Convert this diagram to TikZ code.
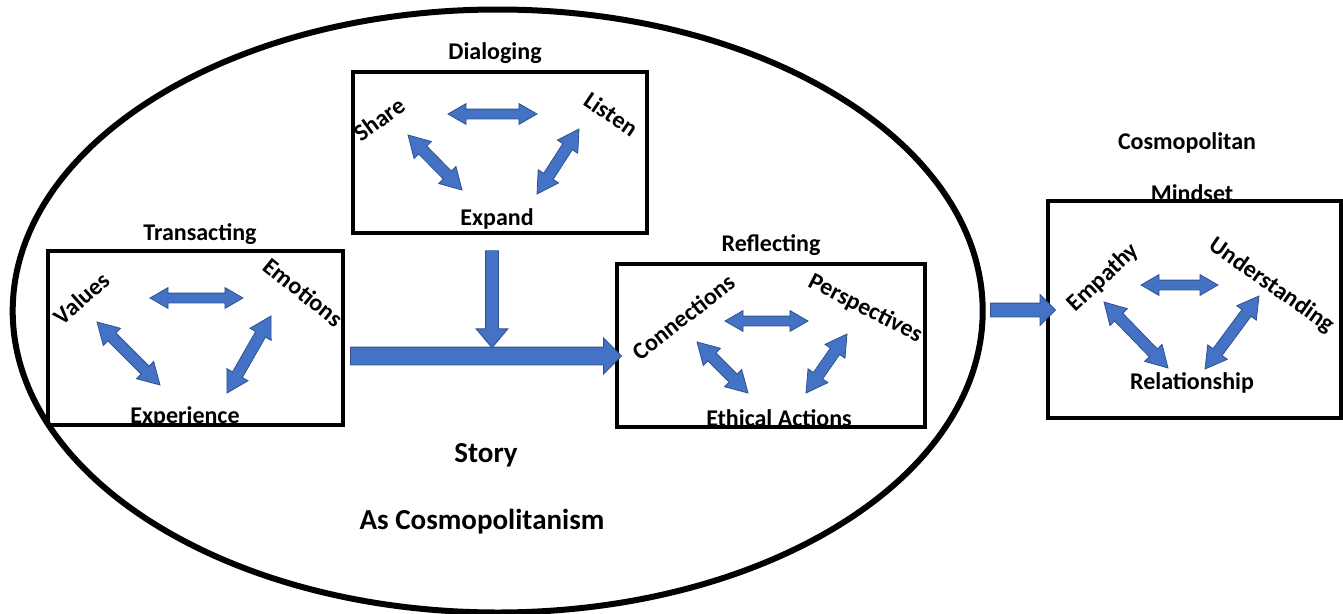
\documentclass[tikz,border=0pt]{standalone}
\usepackage{fontspec}
\setmainfont{Carlito}
\usetikzlibrary{shapes.arrows,calc}
\definecolor{arrowfill}{HTML}{4472C4}
\definecolor{arrowline}{HTML}{2F528F}
\begin{document}
\begin{tikzpicture}[x=1pt,y=-1pt,
  lbl/.style={font=\fontsize{24}{28}\selectfont\bfseries, inner sep=0pt, text height=17pt, text depth=5pt},
  biglbl/.style={font=\fontsize{29}{33}\selectfont\bfseries, inner sep=0pt, text height=20pt, text depth=6pt},
  frame/.style={draw=black, line width=3.5pt, rectangle, inner sep=0pt},
  arrowbase/.style={draw=arrowline, fill=arrowfill, line width=0.8pt, inner sep=0pt, text depth=0pt, sloped, midway},
  dblh/.style={arrowbase, double arrow, text height=9pt, double arrow head extend=5.5pt, double arrow tip angle=60},
  dbld/.style={arrowbase, double arrow, text height=10.5pt, double arrow head extend=6.5pt, double arrow tip angle=60},
  sgl/.style={arrowbase, single arrow}
]
\useasboundingbox (0,0) rectangle (1343,613);

% big ellipse
\draw[line width=6pt] (497.7,311) ellipse [x radius=485, y radius=301.5];

% boxes
\node[frame, minimum width=294pt, minimum height=161pt] (dbox) at (500,152.5) {};
\node[frame, minimum width=295pt, minimum height=174pt] (tbox) at (195.5,338) {};
\node[frame, minimum width=308pt, minimum height=163pt] (rbox) at (771,345.5) {};
\node[frame, minimum width=293pt, minimum height=217pt] (cbox) at (1194.5,309.5) {};

% texts
\node[lbl] (tDia) at (495,53) {Dialoging};
\node[lbl, rotate=36] (tShare) at (381,121) {Share};
\node[lbl, rotate=-34] (tListen) at (610,116) {Listen};
\node[lbl] (tExpand) at (497,219) {Expand};

\node[lbl] (tTra) at (200,234) {Transacting};
\node[lbl, rotate=42] (tValues) at (83,300) {Values};
\node[lbl, rotate=-39] (tEmo) at (302,294) {Emotions};
\node[lbl] (tExp) at (185,417) {Experience};

\node[lbl] (tRef) at (771,245) {Reflecting};
\node[lbl, rotate=38] (tCon) at (685,319) {Connections};
\node[lbl, rotate=-27] (tPer) at (865,309) {Perspectives};
\node[lbl] (tEth) at (779,420) {Ethical Actions};

\node[lbl] (tCos) at (1187,143) {Cosmopolitan};
\node[lbl] (tMind) at (1192,195) {Mindset};
\node[lbl, rotate=43] (tEmp) at (1104,278) {Empathy};
\node[lbl, rotate=-35] (tUnd) at (1271,286) {Understanding};
\node[lbl] (tRel) at (1192,383) {Relationship};

\node[biglbl] (tStory) at (486,455) {Story};
\node[biglbl] (tAs) at (482,522) {As Cosmopolitanism};

% arrow end coordinates
\coordinate (d1a) at (448,114); \coordinate (d1b) at (537,114);
\coordinate (d2a) at (408,135); \coordinate (d2b) at (462,190);
\coordinate (d3a) at (579,129); \coordinate (d3b) at (537,194);
\coordinate (t1a) at (150,298); \coordinate (t1b) at (243,298);
\coordinate (t2a) at (97,322);  \coordinate (t2b) at (160,385);
\coordinate (t3a) at (271,316); \coordinate (t3b) at (227,393);
\coordinate (r1a) at (725,321); \coordinate (r1b) at (808,321);
\coordinate (r2a) at (697,342); \coordinate (r2b) at (748,393);
\coordinate (r3a) at (847,334); \coordinate (r3b) at (806,393);
\coordinate (c1a) at (1141,285); \coordinate (c1b) at (1218,285);
\coordinate (c2a) at (1104,302); \coordinate (c2b) at (1168,368);
\coordinate (c3a) at (1259,296); \coordinate (c3b) at (1205,369);
\coordinate (bigA) at (346,356); \coordinate (bigB) at (617,356);
\coordinate (downA) at (492,247); \coordinate (downB) at (492,344);
\coordinate (outA) at (987,310); \coordinate (outB) at (1052,310);

% double arrows
\foreach \a/\b/\s in {d1a/d1b/dblh, t1a/t1b/dblh, r1a/r1b/dblh, c1a/c1b/dblh,
                      d2a/d2b/dbld, d3a/d3b/dbld, t2a/t2b/dbld, t3a/t3b/dbld,
                      r2a/r2b/dbld, r3a/r3b/dbld, c2a/c2b/dbld, c3a/c3b/dbld}{
  \path let \p1=($(\b)-(\a)$), \n1={veclen(\x1,\y1)} in
    (\a) -- (\b) node[\s, minimum height=\n1] {};
}

% single block arrows
\path let \p1=($(bigB)-(bigA)$), \n1={veclen(\x1,\y1)} in
  (bigA) -- (bigB) node[sgl, minimum height=\n1, text height=17pt, single arrow head extend=9pt, single arrow tip angle=90] (bigarrow) {};
\path let \p1=($(downB)-(downA)$), \n1={veclen(\x1,\y1)} in
  (downA) -- (downB) node[sgl, minimum height=\n1, text height=12pt, single arrow head extend=9.5pt, single arrow tip angle=80] (downarrow) {};
\path let \p1=($(outB)-(outA)$), \n1={veclen(\x1,\y1)} in
  (outA) -- (outB) node[sgl, minimum height=\n1, text height=13pt, single arrow head extend=8.5pt, single arrow tip angle=90] (outarrow) {};
\end{tikzpicture}
\end{document}
